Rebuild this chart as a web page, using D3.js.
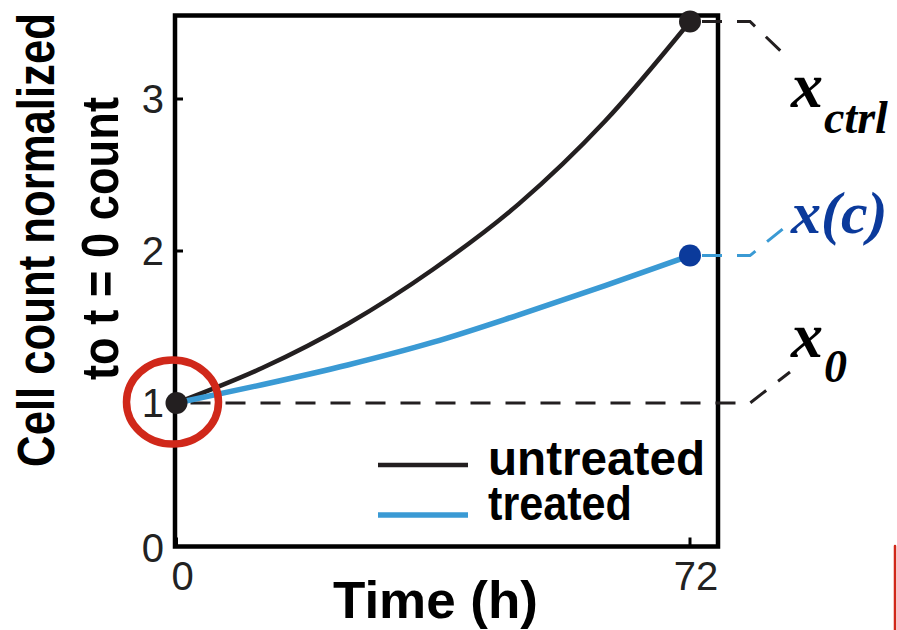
<!DOCTYPE html>
<html>
<head>
<meta charset="utf-8">
<script src="https://cdn.jsdelivr.net/npm/d3@7"></script>
<style>
  body { margin: 0; background: #fff; }
  svg { display: block; }
</style>
</head>
<body>
<div id="chart"></div>
<script>
// values (time in hours, count normalized to t = 0)
var hours = [0, 12, 24, 36, 48, 60, 72];
var untreated = [1, 1.23, 1.52, 1.88, 2.31, 2.85, 3.51];
var treated = [1, 1.12, 1.25, 1.40, 1.58, 1.77, 1.97];
var xTicks = [0, 72];
var yTicks = [0, 1, 2, 3];
var seriesNames = ['untreated', 'treated'];
var seriesColors = ['#231f20', '#3a9ad4'];

var attrs = {
  width: 897,
  height: 630,
  frameLeft: 175,
  frameTop: 15.5,
  frameRight: 718,
  frameBottom: 546.5,
  sansFont: '"Liberation Sans", Arial, Helvetica, sans-serif',
  serifFont: '"Liberation Serif", "Times New Roman", serif',
  darkBlue: '#0b3a9b',
  red: '#d0281a'
};

var svg = d3.select('#chart').append('svg')
  .attr('width', attrs.width)
  .attr('height', attrs.height);

svg.append('rect').attr('width', attrs.width).attr('height', attrs.height).attr('fill', '#fff');

var x = d3.scaleLinear().domain([0, 72]).range([176.5, 690]);
var y = d3.scaleLinear().domain([1, 3]).range([403, 99]);

// ---------- frame + ticks ----------
svg.append('rect')
  .attr('x', attrs.frameLeft)
  .attr('y', attrs.frameTop)
  .attr('width', attrs.frameRight - attrs.frameLeft)
  .attr('height', attrs.frameBottom - attrs.frameTop)
  .attr('fill', 'none')
  .attr('stroke', '#000')
  .attr('stroke-width', 4.5);

svg.selectAll('.y-tick').data(yTicks).enter().append('line')
  .attr('class', 'y-tick')
  .attr('x1', attrs.frameLeft).attr('x2', attrs.frameLeft + 8)
  .attr('y1', d => Math.min(y(d), attrs.frameBottom))
  .attr('y2', d => Math.min(y(d), attrs.frameBottom))
  .attr('stroke', '#000').attr('stroke-width', 3);

svg.selectAll('.y-label').data(yTicks).enter().append('text')
  .attr('class', 'y-label')
  .attr('x', 164)
  .attr('y', d => Math.min(y(d), attrs.frameBottom + 1) + 14)
  .attr('text-anchor', 'end')
  .attr('font-family', attrs.sansFont)
  .attr('font-size', 40)
  .attr('fill', '#222')
  .text(d => d);

svg.selectAll('.x-tick').data(xTicks).enter().append('line')
  .attr('class', 'x-tick')
  .attr('x1', d => x(d)).attr('x2', d => x(d))
  .attr('y1', attrs.frameBottom).attr('y2', attrs.frameBottom - 9)
  .attr('stroke', '#000').attr('stroke-width', 3);

svg.selectAll('.x-label').data(xTicks).enter().append('text')
  .attr('class', 'x-label')
  .attr('x', d => x(d) + 6)
  .attr('y', 590)
  .attr('text-anchor', 'middle')
  .attr('font-family', attrs.sansFont)
  .attr('font-size', 40)
  .attr('fill', '#222')
  .text(d => d);

// axis titles
svg.append('text')
  .attr('x', 435.5).attr('y', 618)
  .attr('text-anchor', 'middle')
  .attr('font-family', attrs.sansFont)
  .attr('font-weight', 'bold')
  .attr('font-size', 52)
  .attr('textLength', 205).attr('lengthAdjust', 'spacingAndGlyphs')
  .attr('fill', '#000')
  .text('Time (h)');

// y title: condensed by a horizontal scale so the box matches what is drawn
var yTitle = [
  { text: 'Cell count normalized', base: 54, center: 240, len: 454 },
  { text: 'to t = 0 count', base: 118, center: 238.5, len: 283 }
];
svg.selectAll('.y-title').data(yTitle).enter().append('text')
  .attr('class', 'y-title')
  .attr('text-anchor', 'middle')
  .attr('font-family', attrs.sansFont)
  .attr('font-weight', 'bold')
  .attr('font-size', 51)
  .attr('fill', '#000')
  .text(d => d.text)
  .each(function(d) {
    var k = d.len / this.getComputedTextLength();
    d3.select(this).attr('transform',
      'translate(' + d.base + ',' + d.center + ') rotate(-90) scale(' + k + ',1)');
  });

// ---------- annotation dashes ----------
var dashLine = d3.line();
var annotations = [
  { v: untreated[untreated.length - 1], x0: x(72) + 12, to: 60, color: '#231f20' },
  { v: treated[treated.length - 1], x0: x(72) + 12, to: 223, color: '#3a9ad4' },
  { v: 1, x0: x(0) + 14, to: 372, color: '#231f20' }
];
svg.selectAll('.anno').data(annotations).enter().append('path')
  .attr('class', 'anno')
  .attr('d', d => dashLine([[d.x0, y(d.v)], [750, y(d.v)], [790, d.to]]))
  .attr('fill', 'none')
  .attr('stroke', d => d.color)
  .attr('stroke-width', 3)
  .attr('stroke-dasharray', '20,15');

// ---------- curves ----------
var curve = d3.line()
  .x((d, i) => x(hours[i]))
  .y(d => y(d))
  .curve(d3.curveMonotoneX);

var series = [untreated, treated];
svg.selectAll('.series').data(series).enter().append('path')
  .attr('class', 'series')
  .attr('d', d => curve(d))
  .attr('fill', 'none')
  .attr('stroke', (d, i) => seriesColors[i])
  .attr('stroke-width', (d, i) => i === 0 ? 4.5 : 5.5);

// end points
var dots = [
  { t: 72, v: untreated[untreated.length - 1], color: '#231f20' },
  { t: 72, v: treated[treated.length - 1], color: attrs.darkBlue },
  { t: 0, v: 1, color: '#231f20' }
];
svg.selectAll('.dot').data(dots).enter().append('circle')
  .attr('class', 'dot')
  .attr('cx', d => x(d.t)).attr('cy', d => y(d.v))
  .attr('r', 11)
  .attr('fill', d => d.color);

// red ring around t = 0
svg.append('ellipse')
  .attr('cx', 172.5).attr('cy', y(1) - 1)
  .attr('rx', 46).attr('ry', 42)
  .attr('fill', 'none')
  .attr('stroke', attrs.red)
  .attr('stroke-width', 7.5);

// stray red edge at bottom right
svg.append('line')
  .attr('x1', 895).attr('x2', 895)
  .attr('y1', 546).attr('y2', 630)
  .attr('stroke', attrs.red).attr('stroke-width', 2.5)
  .attr('stroke-linecap', 'round');

// ---------- legend ----------
var legendTop = 465, legendStep = 50;

svg.selectAll('.legend-symbol').data(seriesNames).enter().append('line')
  .attr('class', 'legend-symbol')
  .attr('x1', 378).attr('x2', 468)
  .attr('y1', (d, i) => legendTop + i * legendStep)
  .attr('y2', (d, i) => legendTop + i * legendStep)
  .attr('stroke', (d, i) => seriesColors[i])
  .attr('stroke-width', (d, i) => i === 0 ? 4.5 : 5.5);

// both entries in one text block, one tspan per line
var legendText = svg.append('text')
  .attr('class', 'legend-text')
  .attr('font-family', attrs.sansFont)
  .attr('font-weight', 'bold')
  .attr('font-size', 48)
  .attr('fill', '#000');

legendText.selectAll('tspan').data(seriesNames).enter().append('tspan')
  .attr('x', 488)
  .attr('y', (d, i) => i === 0 ? legendTop + 10 : legendTop + legendStep + 5)
  .attr('textLength', (d, i) => i === 0 ? 217 : 144).attr('lengthAdjust', 'spacingAndGlyphs')
  .text(d => d);

// ---------- math labels ----------
var mathLabels = [
  { main: 'x', sub: 'ctrl', y: 107, subY: 133, color: '#000' },
  { main: 'x(c)', sub: '', y: 233, subY: 0, color: attrs.darkBlue },
  { main: 'x', sub: '0', y: 357, subY: 382, color: '#000' }
];
var mathText = svg.selectAll('.math').data(mathLabels).enter().append('text')
  .attr('class', 'math')
  .attr('x', 791).attr('y', d => d.y)
  .attr('font-family', attrs.serifFont)
  .attr('font-weight', 'bold')
  .attr('font-style', 'italic')
  .attr('fill', d => d.color);

mathText.append('tspan')
  .attr('font-size', d => d.sub ? 64 : 60)
  .text(d => d.main);
mathText.filter(d => d.sub).append('tspan')
  .attr('x', 824)
  .attr('y', d => d.subY)
  .attr('font-size', 46)
  .text(d => d.sub);
</script>
</body>
</html>
